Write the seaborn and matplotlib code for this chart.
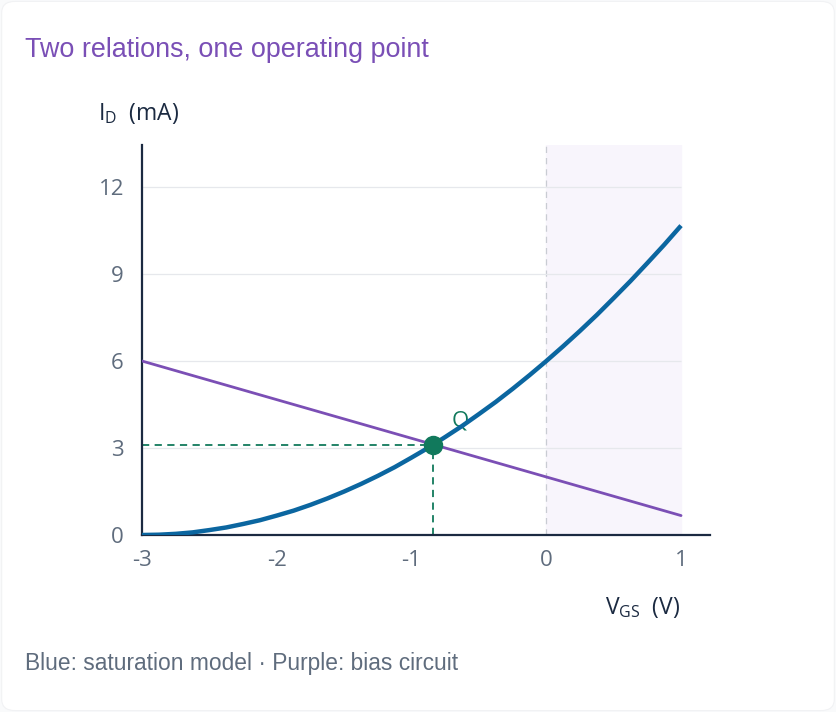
import numpy as np
import pandas as pd
import seaborn as sns
import matplotlib.pyplot as plt
from matplotlib.patches import FancyBboxPatch

# saturation model I_D vs V_GS
vgs = [-3.0, -2.875, -2.75, -2.625, -2.5, -2.375, -2.25, -2.125, -2.0, -1.875,
       -1.75, -1.625, -1.5, -1.375, -1.25, -1.125, -1.0, -0.875, -0.75, -0.625,
       -0.5, -0.375, -0.25, -0.125, 0.0, 0.125, 0.25, 0.375, 0.5, 0.625,
       0.75, 0.875, 1.0]
id_sat = [0.0, 0.01, 0.04, 0.09, 0.17, 0.26, 0.38, 0.51, 0.67, 0.84,
          1.04, 1.26, 1.5, 1.76, 2.04, 2.34, 2.67, 3.01, 3.38, 3.76,
          4.17, 4.59, 5.04, 5.51, 6.0, 6.51, 7.04, 7.59, 8.17, 8.76,
          9.38, 10.01, 10.67]

# bias circuit line
bias_vgs = [-3.0, 1.0]
bias_id = [6.0, 0.67]

# operating point
q_vgs = -0.84
q_id = 3.12

y_ticks = [0, 3, 6, 9, 12]
x_ticks = [-3, -2, -1, 0, 1]

BLUE = "#0b66a0"
PURPLE = "#7b4fb5"
GREEN = "#11795c"
INK = "#1b2a41"
MUTED = "#5f6c7d"

sns.set_theme(style="white")
plt.rcParams["font.family"] = ["Open Sans", "DejaVu Sans"]
plt.rcParams["mathtext.fontset"] = "custom"
plt.rcParams["mathtext.rm"] = "Open Sans"
plt.rcParams["mathtext.default"] = "regular"

fig = plt.figure(figsize=(8.36, 7.12), dpi=100)
fig.patch.set_facecolor("#f9fafb")
card = FancyBboxPatch((0.002, 0.002), 0.996, 0.996,
                      boxstyle="round,pad=0,rounding_size=0.016",
                      transform=fig.transFigure, facecolor="white",
                      edgecolor="#f1f2f4", linewidth=0.8, zorder=-10)
fig.patches.append(card)

ax = fig.add_axes([0.1699, 0.2486, 0.6794, 0.5477])
ax.set_facecolor("none")

# shaded region V_GS > 0 and its boundary
ax.axvspan(0, 1, color="#f8f5fc", zorder=0)
ax.axvline(0, color="#c9ccd3", lw=0.9, ls=(0, (5, 4)), zorder=1)
for yv in y_ticks[1:]:
    ax.hlines(yv, -3, 1, color="#e6e8ec", lw=0.9, zorder=1)

curve = pd.DataFrame({"vgs": vgs, "id": id_sat})
bias = pd.DataFrame({"vgs": bias_vgs, "id": bias_id})
sns.lineplot(data=bias, x="vgs", y="id", color=PURPLE, lw=2.0, ax=ax, zorder=3)
sns.lineplot(data=curve, x="vgs", y="id", color=BLUE, lw=3.2, ax=ax, zorder=4,
             solid_capstyle="butt")

# projections of Q
ax.plot([-3, q_vgs], [q_id, q_id], color=GREEN, lw=1.3, ls=(0, (4, 3)), zorder=2)
ax.plot([q_vgs, q_vgs], [0, q_id], color=GREEN, lw=1.3, ls=(0, (4, 3)), zorder=2)
ax.plot([q_vgs], [q_id], "o", color=GREEN, ms=13, zorder=5)
ax.text(q_vgs + 0.2, q_id + 0.8, "Q", color=GREEN, fontsize=16,
        ha="center", va="center")

ax.set_xlim(-3, 1.215)
ax.set_ylim(0, 13.45)
ax.set_xticks(x_ticks)
ax.set_yticks(y_ticks)
ax.set_xticklabels([str(t) for t in x_ticks])
ax.set_yticklabels([str(t) for t in y_ticks])
ax.tick_params(length=0, labelsize=16, labelcolor=MUTED)
ax.tick_params(axis="x", pad=11)
ax.tick_params(axis="y", pad=13)
ax.set_xlabel("")
ax.set_ylabel("")
sns.despine(ax=ax)
for s in ["left", "bottom"]:
    ax.spines[s].set_color(INK)
    ax.spines[s].set_linewidth(1.6)

fig.text(98 / 836, 1 - 120 / 712, r"$I_D$  (mA)", fontsize=16.5, color=INK,
         ha="left", va="baseline")
fig.text(680 / 836, 1 - 614 / 712, r"$V_{GS}$  (V)", fontsize=16.5, color=INK,
         ha="right", va="baseline")

fig.text(25 / 836, 1 - 57 / 712, "Two relations, one operating point",
         fontsize=19.4, color="#7a4fb6", family="Liberation Sans",
         ha="left", va="baseline")
fig.text(25 / 836, 1 - 670 / 712, "Blue: saturation model \u00b7 Purple: bias circuit",
         fontsize=16.4, color=MUTED, family="Liberation Sans",
         ha="left", va="baseline")

fig.savefig("out.png", dpi=100, facecolor=fig.get_facecolor())
